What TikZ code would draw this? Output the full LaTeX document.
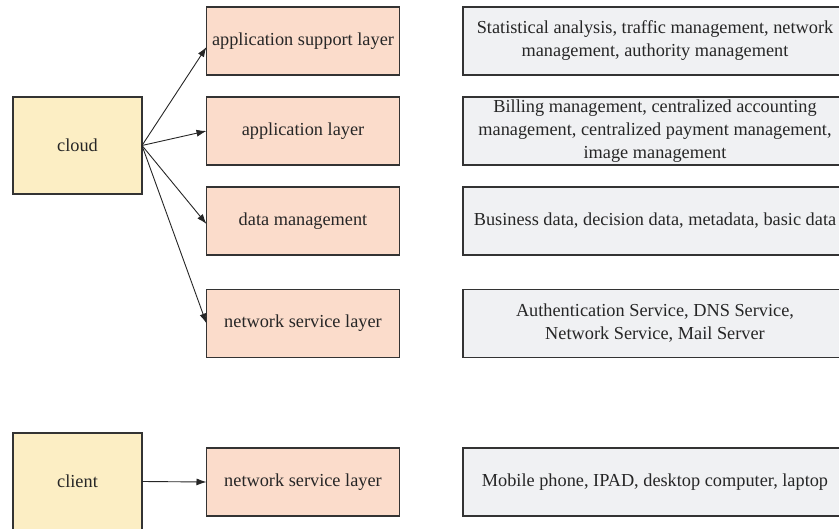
\documentclass[tikz,border=0pt]{standalone}
\usepackage{fontspec}
\setmainfont{Liberation Serif}
\usetikzlibrary{arrows.meta}
\definecolor{yel}{HTML}{FCEEC4}
\definecolor{org}{HTML}{FBDCCB}
\definecolor{gry}{HTML}{F0F1F3}
\definecolor{edge}{HTML}{333333}
\begin{document}
\begin{tikzpicture}[x=1pt,y=-1pt,
  base/.style={draw=edge,line width=1.1pt,inner sep=0pt,outer sep=0pt,align=center,
    font=\fontsize{18.3}{23}\selectfont,text=black!85},
  mainbox/.style={base,fill=yel,minimum width=129pt,minimum height=97pt},
  layerbox/.style={base,fill=org,minimum width=193pt,minimum height=68pt},
  infobox/.style={base,fill=gry,minimum width=384pt,minimum height=68pt},
  arr/.style={-{Latex[length=10pt,width=7pt]},line width=0.9pt,draw=black!85}]
\useasboundingbox (0,0) rectangle (839,529);
\node[mainbox] (cloud) at (77.5,145.5) {cloud};
\node[mainbox] (client) at (77.5,481.5) {client};
\node[layerbox] (l1) at (303,41) {application support layer};
\node[layerbox] (l2) at (303,131) {application layer};
\node[layerbox] (l3) at (303,221) {data management};
\node[layerbox] (l4) at (303,323.5) {network service layer};
\node[layerbox] (l5) at (303,482) {network service layer};
\node[infobox] (r1) at (655,41) {Statistical analysis, traffic management, network\\management, authority management};
\node[infobox] (r2) at (655,131) {Billing management, centralized accounting\\management, centralized payment management,\\image management};
\node[infobox] (r3) at (655,221) {Business data, decision data, metadata, basic data};
\node[infobox] (r4) at (655,323.5) {Authentication Service, DNS Service,\\Network Service, Mail Server};
\node[infobox] (r5) at (655,482) {Mobile phone, IPAD, desktop computer, laptop};
\coordinate (c0) at (cloud.east);
\draw[arr] (c0) -- ([yshift=-6pt]l1.west);
\draw[arr] (c0) -- (l2.west);
\draw[arr] (c0) -- ([yshift=-3pt]l3.west);
\draw[arr] (c0) -- (l4.west);
\draw[arr] (client.east) -- (l5.west);
\end{tikzpicture}
\end{document}
